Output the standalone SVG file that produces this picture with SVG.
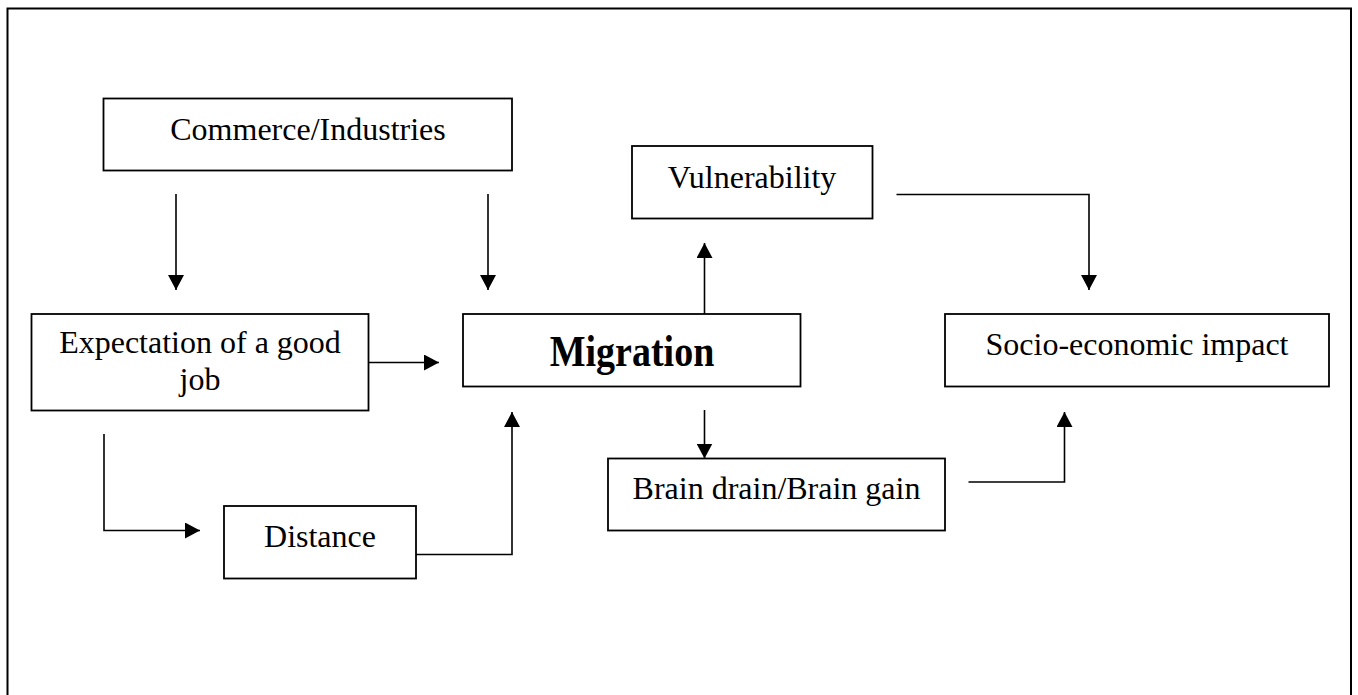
<svg xmlns="http://www.w3.org/2000/svg" width="1358" height="695" viewBox="0 0 1358 695">
<style>
.box{fill:#fff;stroke:#000;stroke-width:1.8}
.t{font-family:"Liberation Serif","Times New Roman",serif;font-size:32px;fill:#000;text-anchor:middle}
.b{font-weight:bold;font-size:38px}
.c{fill:none;stroke:#000;stroke-width:1.6}
</style>
<defs>
<marker id="ah" markerUnits="userSpaceOnUse" markerWidth="16" markerHeight="16" refX="15" refY="8" orient="auto" viewBox="0 0 16 16">
<path d="M0,0 L15,8 L0,16 z" fill="#000"/>
</marker>
</defs>
<rect x="0" y="0" width="1358" height="695" fill="#fff"/>
<rect id="frame" x="7.5" y="8.5" width="1343.5" height="720" fill="none" stroke="#000" stroke-width="2"/>
<g id="commerce"><rect class="box" x="103.5" y="98.5" width="408.5" height="72"/><text class="t" x="308" y="140">Commerce/Industries</text></g>
<g id="vulnerability"><rect class="box" x="632" y="146" width="240.5" height="72.5"/><text class="t" x="752" y="188">Vulnerability</text></g>
<g id="expectation"><rect class="box" x="31.5" y="314" width="337" height="96.5"/><text class="t" x="200" y="353">Expectation of a good</text><text class="t" x="200" y="390">job</text></g>
<g id="migration"><rect class="box" x="463" y="314" width="337.5" height="72.5"/><text class="t b" transform="translate(632,366) scale(1,1.15)" x="0" y="0">Migration</text></g>
<g id="socio"><rect class="box" x="945" y="314" width="384" height="72.5"/><text class="t" x="1137" y="355">Socio-economic impact</text></g>
<g id="brain"><rect class="box" x="608" y="458.5" width="337" height="72"/><text class="t" x="776.5" y="499">Brain drain/Brain gain</text></g>
<g id="distance"><rect class="box" x="224" y="506" width="192" height="72.5"/><text class="t" x="320" y="546.5">Distance</text></g>
<g id="connectors">
<path class="c" d="M176,194 V290" marker-end="url(#ah)"/>
<path class="c" d="M488,194 V290" marker-end="url(#ah)"/>
<path class="c" d="M369,362.5 H439" marker-end="url(#ah)"/>
<path class="c" d="M104,434 V530.5 H200" marker-end="url(#ah)"/>
<path class="c" d="M416,554.5 H512 V412" marker-end="url(#ah)"/>
<path class="c" d="M704.5,314 V243" marker-end="url(#ah)"/>
<path class="c" d="M704.5,410 V458.5" marker-end="url(#ah)"/>
<path class="c" d="M896.5,194.5 H1089 V290" marker-end="url(#ah)"/>
<path class="c" d="M968.5,482 H1064.5 V412" marker-end="url(#ah)"/>
</g>
</svg>
